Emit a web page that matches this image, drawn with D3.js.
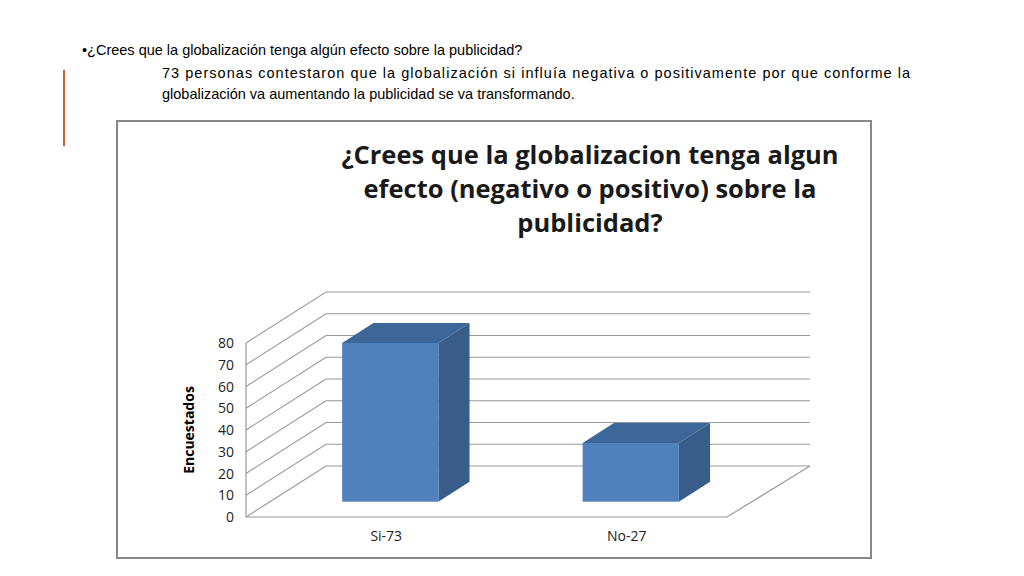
<!DOCTYPE html>
<html><head><meta charset="utf-8">
<script src="https://cdn.jsdelivr.net/npm/d3@7"></script>
<style>body{margin:0;background:#fff;font-family:"Liberation Sans",Arial,sans-serif}</style>
</head><body>
<svg id="c" width="1024" height="576"></svg>
<script>
const categories = ['Si-73', 'No-27'];
const values = [73, 27];
const yTicks = [0, 10, 20, 30, 40, 50, 60, 70, 80];
const titleLines = ['¿Crees que la globalizacion tenga algun', 'efecto (negativo o positivo) sobre la', 'publicidad?'];

const svg = d3.select('#c');

// slide text
svg.append('text').attr('x', 82).attr('y', 55).attr('font-size', 14.5).attr('fill', '#000')
    .text('•¿Crees que la globalización tenga algún efecto sobre la publicidad?');
const para = ['73 personas contestaron que la globalización si influía negativa o positivamente por que conforme la',
    'globalización va aumentando la publicidad se va transformando.'];
para.forEach((t, i) => {
    const el = svg.append('text').attr('x', 162).attr('y', 78 + i * 21).attr('font-size', 14.5).text(t);
    if (i === 0) el.attr('textLength', 748).attr('lengthAdjust', 'spacing');
});
svg.append('line').attr('x1', 64).attr('x2', 64).attr('y1', 70).attr('y2', 146)
    .attr('stroke', '#c0643c').attr('stroke-width', 2);

// chart frame
svg.append('rect').attr('x', 117).attr('y', 121).attr('width', 754).attr('height', 437)
    .attr('fill', '#fff').attr('stroke', '#888').attr('stroke-width', 2);

titleLines.forEach((t, i) => {
    svg.append('text').attr('x', 590).attr('y', 164 + i * 34).attr('text-anchor', 'middle')
        .attr('font-family', 'Open Sans').attr('font-weight', 'bold').attr('font-size', 25.5)
        .attr('fill', '#1a1a1a').text(t);
});

// 3D projection
const DX = 80, DY = 51;
const x = d3.scaleBand().domain(categories).range([246, 727]).paddingInner(0.6).paddingOuter(0.3);
const y = d3.scaleLinear().domain([0, 80]).range([517, 343]);
const P = (px, v, d) => [px + d * DX, y(v) - d * DY];

const grid = svg.append('g').attr('fill', 'none').attr('stroke', '#999').attr('stroke-width', 1.2);
yTicks.forEach(v => {
    const a = P(246, v, 0), b = P(246, v, 1), c = [810, b[1]];
    grid.append('polyline').attr('points', [a, b, c].map(p => p.join(',')).join(' '));
});
grid.append('line').attr('x1', 246).attr('x2', 246).attr('y1', y(0)).attr('y2', y(80));
const f1 = P(727, 0, 0), f2 = P(730, 0, 1);
grid.append('polyline').attr('points', [P(246, 0, 0), f1, [810, f2[1]]].map(p => p.join(',')).join(' '));

svg.append('g').selectAll('text').data(yTicks).join('text')
    .attr('x', 234).attr('y', d => y(d) + 5).attr('text-anchor', 'end')
    .attr('font-family', 'Open Sans').attr('font-size', 14).attr('fill', '#222').text(d => d);

svg.append('text').attr('transform', 'translate(194,430) rotate(-90)').attr('text-anchor', 'middle')
    .attr('font-family', 'Liberation Sans Narrow, Open Sans').attr('font-weight', 'bold').attr('font-size', 14)
    .text('Encuestados');

// bars
const d0 = 0.3, d1 = 0.69;
const pts = arr => arr.map(p => p.join(',')).join(' ');
categories.forEach((c, i) => {
    const x0 = x(c), x1 = x0 + x.bandwidth(), v = values[i];
    const g = svg.append('g');
    g.append('polygon').attr('fill', '#385d8a')
        .attr('points', pts([P(x1, 0, d0), P(x1, 0, d1), P(x1, v, d1), P(x1, v, d0)]));
    g.append('polygon').attr('fill', '#3d6699')
        .attr('points', pts([P(x0, v, d0), P(x1, v, d0), P(x1, v, d1), P(x0, v, d1)]));
    const a = P(x0, v, d0), b = P(x1, 0, d0);
    g.append('rect').attr('x', a[0]).attr('y', a[1]).attr('width', b[0] - a[0]).attr('height', b[1] - a[1])
        .attr('fill', '#4f81bd');
    svg.append('text').attr('x', x0 + x.bandwidth() / 2 + 20).attr('y', 541).attr('text-anchor', 'middle')
        .attr('font-family', 'Open Sans').attr('font-size', 14).attr('fill', '#222').text(c);
});
</script>
</body></html>
